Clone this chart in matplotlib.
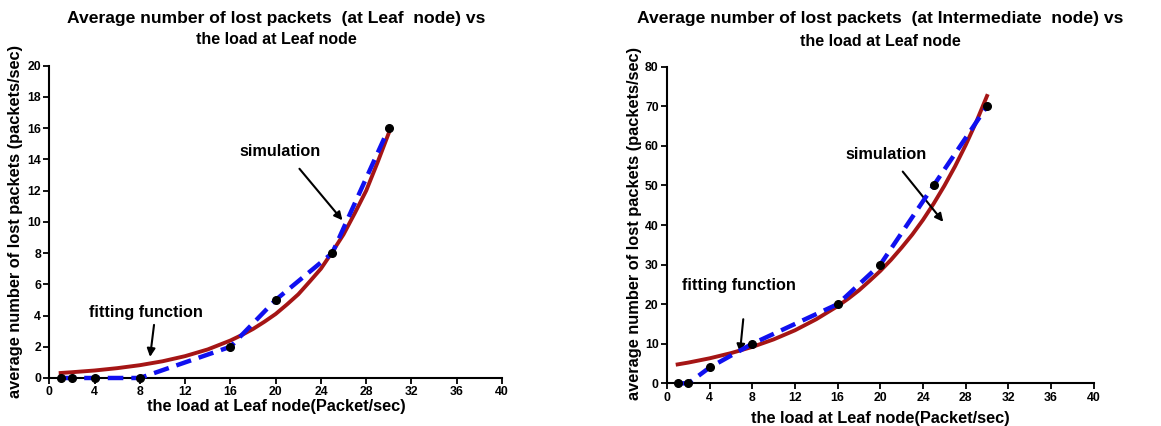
import matplotlib
matplotlib.use("Agg")
import matplotlib.pyplot as plt

plt.rcParams['font.family'] = ['Liberation Sans', 'DejaVu Sans']
plt.rcParams['font.weight'] = 'bold'

# ---- data ----
load_pts = [1, 2, 4, 8, 16, 20, 25, 30]
leaf_sim = [0, 0, 0, 0, 2, 5, 8, 16]
inter_sim = [0, 0, 4, 10, 20, 30, 50, 70]

fit_x = [1, 2, 4, 6, 8, 10, 12, 14, 16, 17, 18, 19, 20, 21, 22, 23, 24, 25, 26, 27, 28, 29, 30]
leaf_fit = [0.32, 0.37, 0.48, 0.63, 0.82, 1.07, 1.40, 1.83, 2.40, 2.75, 3.14, 3.60, 4.10,
            4.71, 5.36, 6.17, 7.0, 8.07, 9.2, 10.57, 12.0, 13.8, 15.7]
inter_fit = [4.78, 5.24, 6.32, 7.63, 9.2, 11.1, 13.4, 16.2, 19.5, 21.4, 23.5, 25.9, 28.4,
             31.2, 34.3, 37.6, 41.3, 45.4, 49.9, 54.8, 60.2, 66.1, 72.6]

x_ticks = [0, 4, 8, 12, 16, 20, 24, 28, 32, 36, 40]
leaf_yticks = [0, 2, 4, 6, 8, 10, 12, 14, 16, 18, 20]
inter_yticks = [0, 10, 20, 30, 40, 50, 60, 70, 80]

fig = plt.figure(figsize=(11.61, 4.26), dpi=100)
ax1 = fig.add_axes([0.0425, 0.1127, 0.3899, 0.7331])
ax2 = fig.add_axes([0.5745, 0.1002, 0.3675, 0.7432])

RED = '#a51515'
BLUE = '#1010f0'

def style(ax, yticks):
    for s in ['top', 'right']:
        ax.spines[s].set_visible(False)
    for s in ['left', 'bottom']:
        ax.spines[s].set_linewidth(1.5)
    ax.set_xlim(0, 40)
    ax.set_ylim(yticks[0], yticks[-1])
    ax.set_xticks(x_ticks)
    ax.set_yticks(yticks)
    ax.tick_params(direction='out', length=4, width=1.3, labelsize=8.8, pad=2)
    for lab in ax.get_xticklabels() + ax.get_yticklabels():
        lab.set_fontweight('bold')

def draw(ax, sim, fit):
    ax.plot(fit_x, fit, color=RED, lw=2.8, zorder=3, clip_on=False, solid_joinstyle='round')
    ax.plot(load_pts, sim, color=BLUE, lw=3.2, dashes=(3.5, 1.8), zorder=4, clip_on=False)
    ax.plot(load_pts, sim, 'o', color='black', ms=5.5, zorder=5, clip_on=False)

draw(ax1, leaf_sim, leaf_fit)
style(ax1, leaf_yticks)
draw(ax2, inter_sim, inter_fit)
style(ax2, inter_yticks)

ann_kw = dict(fontsize=11.7, fontweight='bold')
arrow = dict(arrowstyle='-|>', color='black', lw=1.5, mutation_scale=12, shrinkA=0, shrinkB=0)

ax1.text(16.8, 14.5, 'simulation', va='center', ha='left', **ann_kw)
ax1.annotate('', xy=(25.9, 10.1), xytext=(22.1, 13.4), arrowprops=arrow)
ax1.text(3.5, 4.2, 'fitting function', va='center', ha='left', **ann_kw)
ax1.annotate('', xy=(8.9, 1.35), xytext=(9.25, 3.4), arrowprops=arrow)

ax2.text(16.75, 57.7, 'simulation', va='center', ha='left', **ann_kw)
ax2.annotate('', xy=(25.9, 40.8), xytext=(22.1, 53.5), arrowprops=arrow)
ax2.text(1.43, 24.7, 'fitting function', va='center', ha='left', **ann_kw)
ax2.annotate('', xy=(6.84, 7.8), xytext=(7.15, 16.2), arrowprops=arrow)

# titles
fig.text(0.2377, 1 - 19/426, 'Average number of lost packets  (at Leaf  node) vs',
         ha='center', va='center', fontsize=12.6, fontweight='bold')
fig.text(0.2377, 1 - 40/426, 'the load at Leaf node',
         ha='center', va='center', fontsize=11.5, fontweight='bold')
fig.text(880/1161, 1 - 19/426, 'Average number of lost packets  (at Intermediate  node) vs',
         ha='center', va='center', fontsize=12.6, fontweight='bold')
fig.text(880/1161, 1 - 41/426, 'the load at Leaf node',
         ha='center', va='center', fontsize=11.5, fontweight='bold')

# axis labels
fig.text(276/1161, 1 - 406/426, 'the load at Leaf node(Packet/sec)',
         ha='center', va='center', fontsize=11.8, fontweight='bold')
fig.text(16/1161, 1 - 221/426, 'average number of lost packets (packets/sec)',
         ha='center', va='center', rotation=90, fontsize=11.8, fontweight='bold')
fig.text(880/1161, 1 - 418/426, 'the load at Leaf node(Packet/sec)',
         ha='center', va='center', fontsize=11.8, fontweight='bold')
fig.text(635/1161, 1 - 223/426, 'average number of lost packets (packets/sec)',
         ha='center', va='center', rotation=90, fontsize=11.8, fontweight='bold')

fig.savefig('out.png', dpi=100)
